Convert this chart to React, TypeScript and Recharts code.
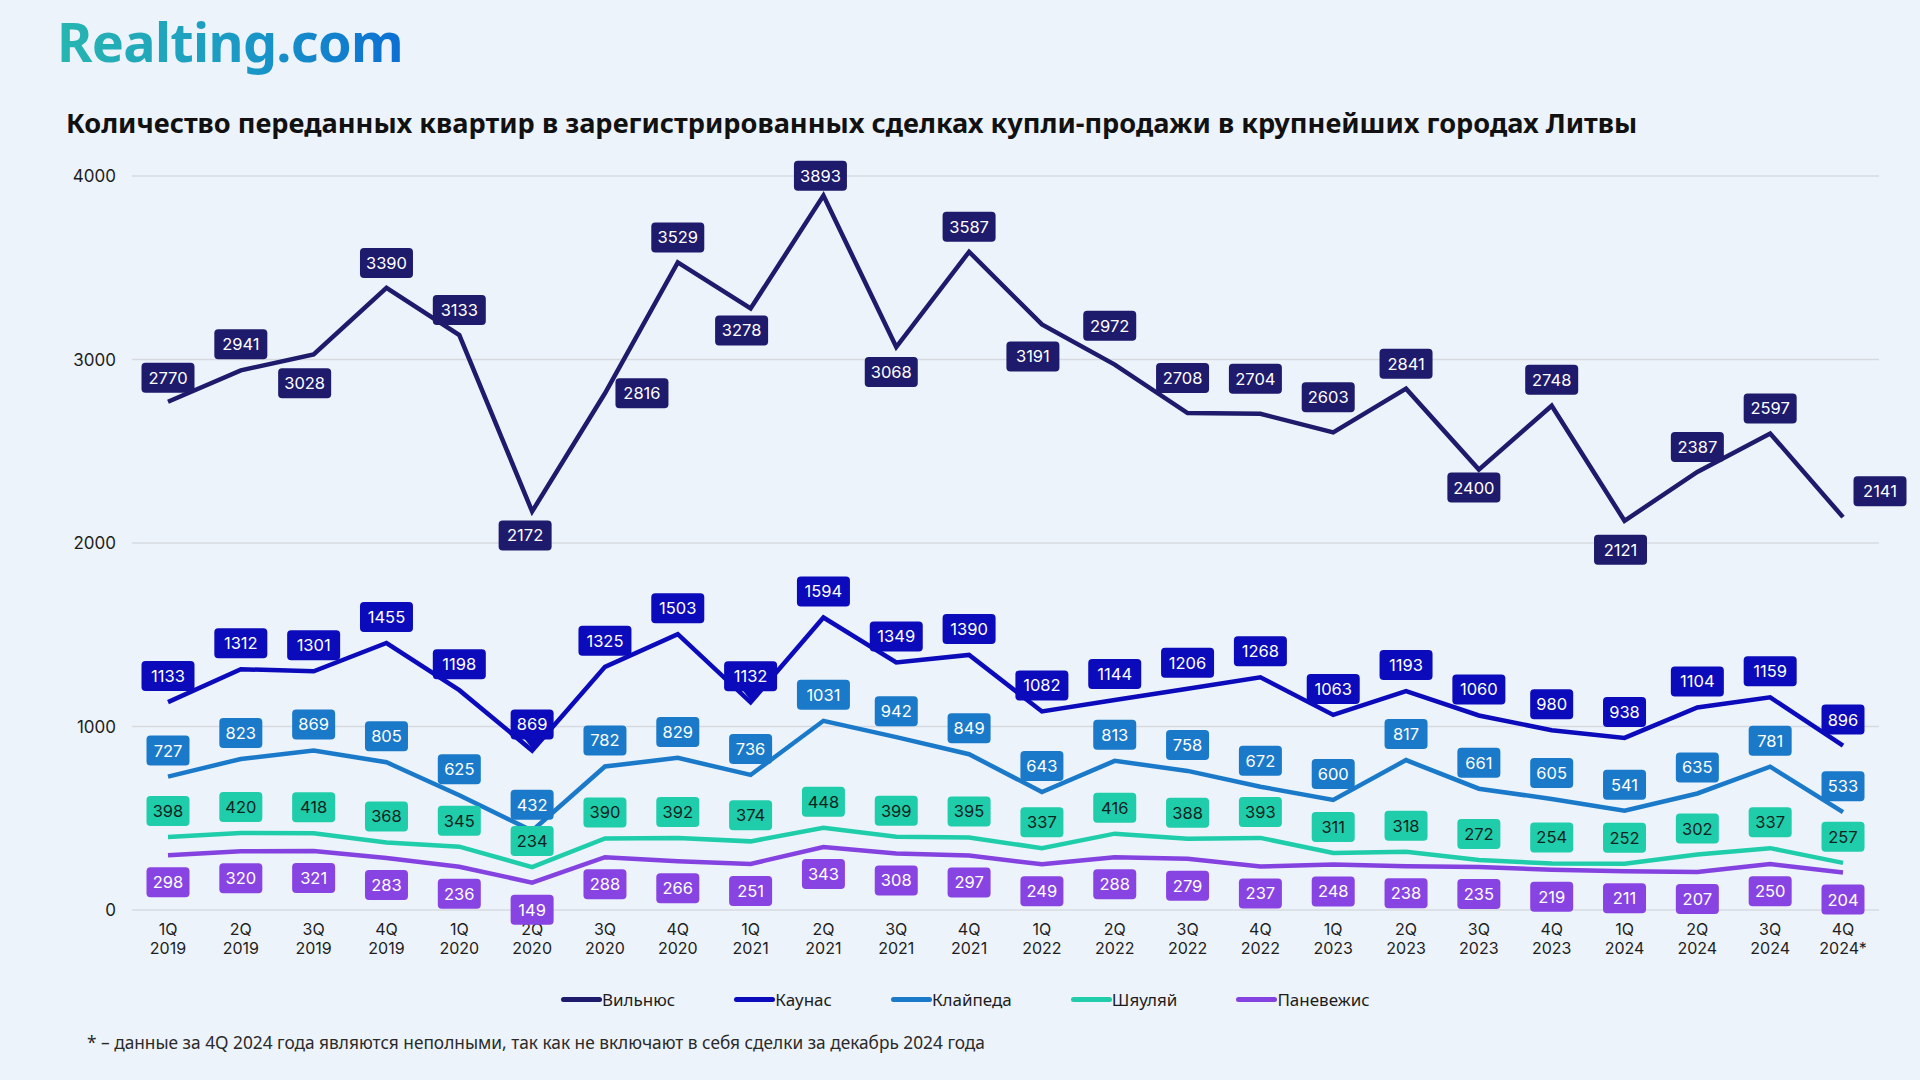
import { CartesianGrid, LabelList, Line, LineChart, XAxis, YAxis } from "recharts";

const quarters = [
  "1Q 2019", "2Q 2019", "3Q 2019", "4Q 2019",
  "1Q 2020", "2Q 2020", "3Q 2020", "4Q 2020",
  "1Q 2021", "2Q 2021", "3Q 2021", "4Q 2021",
  "1Q 2022", "2Q 2022", "3Q 2022", "4Q 2022",
  "1Q 2023", "2Q 2023", "3Q 2023", "4Q 2023",
  "1Q 2024", "2Q 2024", "3Q 2024", "4Q 2024*",
];

const vilnius = [2770, 2941, 3028, 3390, 3133, 2172, 2816, 3529, 3278, 3893, 3068, 3587, 3191, 2972, 2708, 2704, 2603, 2841, 2400, 2748, 2121, 2387, 2597, 2141];
const kaunas = [1133, 1312, 1301, 1455, 1198, 869, 1325, 1503, 1132, 1594, 1349, 1390, 1082, 1144, 1206, 1268, 1063, 1193, 1060, 980, 938, 1104, 1159, 896];
const klaipeda = [727, 823, 869, 805, 625, 432, 782, 829, 736, 1031, 942, 849, 643, 813, 758, 672, 600, 817, 661, 605, 541, 635, 781, 533];
const siauliai = [398, 420, 418, 368, 345, 234, 390, 392, 374, 448, 399, 395, 337, 416, 388, 393, 311, 318, 272, 254, 252, 302, 337, 257];
const panevezys = [298, 320, 321, 283, 236, 149, 288, 266, 251, 343, 308, 297, 249, 288, 279, 237, 248, 238, 235, 219, 211, 207, 250, 204];

const yTicks = [0, 1000, 2000, 3000, 4000];

const data = quarters.map((q, i) => ({
  q,
  vilnius: vilnius[i],
  kaunas: kaunas[i],
  klaipeda: klaipeda[i],
  siauliai: siauliai[i],
  panevezys: panevezys[i],
}));

const series = [
  { key: "vilnius", name: "Вильнюс", color: "#1e1a6c", box: "#1e1a6c", text: "#ffffff" },
  { key: "kaunas", name: "Каунас", color: "#0b0bbb", box: "#0b0bbb", text: "#ffffff" },
  { key: "klaipeda", name: "Клайпеда", color: "#1a7ac9", box: "#1a7ac9", text: "#ffffff" },
  { key: "siauliai", name: "Шяуляй", color: "#1fcdaa", box: "#1fcdaa", text: "#10231f" },
  { key: "panevezys", name: "Паневежис", color: "#8442e0", box: "#8844e2", text: "#ffffff" },
];

// label placement for the Vilnius line (offset of box centre from the point)
const vilniusShift: [number, number][] = [
  [0, -24], [0, -26], [-9, 29], [0, -25], [0, -25], [-7, 24], [37, 0], [0, -25],
  [-9, 22], [-3, -20], [-5, 25], [0, -25], [-9, 32], [-5, -39], [-5, -35], [-5, -35],
  [-5, -35], [0, -25], [-5, 18], [0, -26], [-4, 29], [0, -25], [0, -25], [37, -26],
];
const kaunasPointer = [5, 8];

const FONT = "Inter, 'Noto Sans', sans-serif";

function makeLabel(box: string, textColor: string, shift: (i: number) => [number, number], pointer: number[] = []) {
  return (props: any) => {
    const x = props.x ?? props.viewBox?.x;
    const y = props.y ?? props.viewBox?.y;
    const { value, index } = props;
    if (x == null || y == null) return null;
    const [dx, dy] = shift(index);
    const w = String(value).length > 3 ? 53 : 43;
    const h = 30;
    const cx = x + dx;
    const cy = y + dy;
    return (
      <g>
        <rect x={cx - w / 2} y={cy - h / 2} width={w} height={h} rx={4} fill={box} />
        {pointer.includes(index) && (
          <polygon points={`${cx - 8},${cy + h / 2 - 1} ${cx + 8},${cy + h / 2 - 1} ${cx},${cy + h / 2 + 9}`} fill={box} />
        )}
        <text x={cx} y={cy} dy="0.36em" textAnchor="middle" fill={textColor} fontSize={16.5} fontFamily={FONT}>
          {value}
        </text>
      </g>
    );
  };
}

const QuarterTick = (props: any) => {
  const { x, y, payload } = props;
  const [q, yr] = String(payload.value).split(" ");
  return (
    <text x={x} y={y} textAnchor="middle" fill="#1d1d1d" fontSize={16} fontFamily={FONT}>
      <tspan x={x} dy={25}>{q}</tspan>
      <tspan x={x} dy={19}>{yr}</tspan>
    </text>
  );
};

export default function App() {
  return (
    <div style={{ position: "absolute", top: 0, left: 0, width: 1920, height: 1080, background: "#edf3fa", overflow: "hidden" }}>
      <div
        style={{
          position: "absolute", left: 57, top: 6, fontFamily: "'Noto Sans', sans-serif", fontWeight: 700, fontSize: 54,
          letterSpacing: -0.7, background: "linear-gradient(90deg, #27b6b0 0%, #1a98c6 55%, #0b6fd3 100%)",
          WebkitBackgroundClip: "text", backgroundClip: "text", color: "transparent", lineHeight: "70px",
        }}
      >
        Realting.com
      </div>
      <div
        style={{
          position: "absolute", left: 66, top: 105, fontFamily: "'Noto Sans', sans-serif", fontWeight: 700, fontSize: 27.2,
          color: "#111111", lineHeight: "36px", whiteSpace: "nowrap",
        }}
      >
        Количество переданных квартир в зарегистрированных сделках купли-продажи в крупнейших городах Литвы
      </div>

      <div style={{ position: "absolute", left: 0, top: 0 }}>
        <LineChart width={1920} height={1080} data={data} margin={{ top: 176, right: 41, bottom: 110, left: 72 }}>
          <CartesianGrid vertical={false} stroke="#d6dae0" strokeWidth={1.5} />
          <XAxis
            dataKey="q"
            interval={0}
            padding={{ left: 36, right: 36 }}
            axisLine={false}
            tickLine={false}
            tickSize={0}
            tickMargin={0}
            height={60}
            tick={<QuarterTick />}
          />
          <YAxis
            domain={[0, 4000]}
            ticks={yTicks}
            width={60}
            axisLine={false}
            tickLine={false}
            tickSize={0}
            tickMargin={16}
            tick={{ fontSize: 17, fill: "#1d1d1d", fontFamily: FONT }}
          />
          {series.map((s) => {
            let shift: (i: number) => [number, number];
            if (s.key === "vilnius") shift = (i) => vilniusShift[i] ?? [0, -25];
            else if (s.key === "panevezys") shift = () => [0, 27];
            else shift = () => [0, -26];
            const pointer = s.key === "kaunas" ? kaunasPointer : [];
            return (
              <Line
                key={s.key}
                type="linear"
                dataKey={s.key}
                name={s.name}
                stroke={s.color}
                strokeWidth={4.5}
                dot={false}
                activeDot={false}
                isAnimationActive={false}
              >
                <LabelList dataKey={s.key} content={makeLabel(s.box, s.text, shift, pointer)} />
              </Line>
            );
          })}
        </LineChart>
      </div>

      <div
        style={{
          position: "absolute", left: 561, top: 988, display: "flex", gap: 59, alignItems: "center",
          fontFamily: "'Noto Sans', sans-serif", fontSize: 17, color: "#1d1d1d",
        }}
      >
        {series.map((s) => (
          <div key={s.key} style={{ display: "flex", alignItems: "center" }}>
            <span style={{ display: "inline-block", width: 41, height: 5, borderRadius: 3, background: s.color }} />
            <span>{s.name}</span>
          </div>
        ))}
      </div>

      <div
        style={{
          position: "absolute", left: 87, top: 1031, fontFamily: "'Noto Sans', sans-serif",
          fontSize: 17.3, color: "#2a2a2a", whiteSpace: "nowrap",
        }}
      >
        * – данные за 4Q 2024 года являются неполными, так как не включают в себя сделки за декабрь 2024 года
      </div>
    </div>
  );
}
